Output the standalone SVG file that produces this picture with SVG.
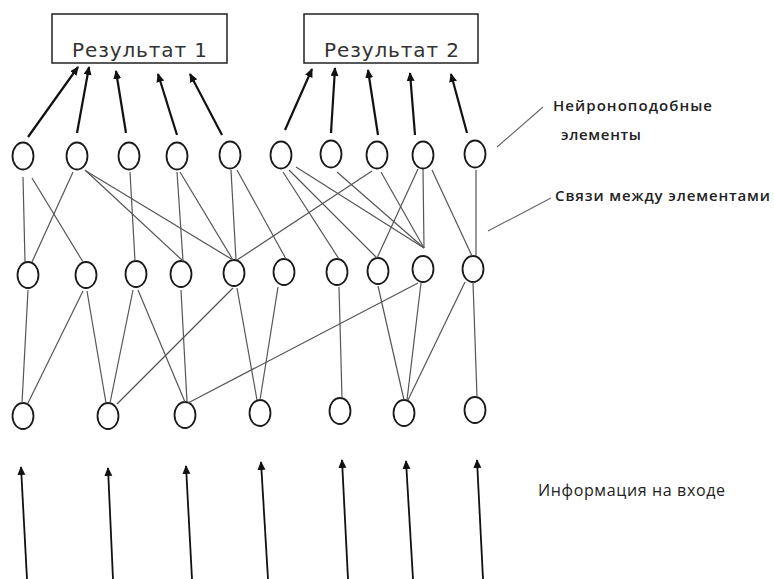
<svg xmlns="http://www.w3.org/2000/svg" width="774" height="579" viewBox="0 0 774 579">
<style>
.node{fill:#fff;stroke:#1a1a1a;stroke-width:1.8}
.box{fill:#fff;stroke:#222;stroke-width:1.5}
.link{stroke:#555;stroke-width:1.2;fill:none}
.out{stroke:#111;stroke-width:2.2;fill:none;marker-end:url(#ah)}
.in{stroke:#111;stroke-width:1.8;fill:none;marker-end:url(#ah)}
.lead{stroke:#666;stroke-width:1.1}
.title{font-family:"DejaVu Sans","Open Sans",sans-serif;font-size:20px;fill:#333}
.lbl{font-family:"Open Sans","Noto Sans",sans-serif;font-size:15px;fill:#222;font-weight:600}
.lbl2{font-family:"Open Sans","Noto Sans",sans-serif;font-size:16px;fill:#222}
</style>
<defs>
<marker id="ah" markerWidth="10" markerHeight="10" refX="8" refY="4" orient="auto" markerUnits="userSpaceOnUse">
<path d="M0,0 L9,4 L0,8 Z" fill="#111"/>
</marker>
</defs>
<g id="result1"><rect class="box" x="52" y="14" width="175" height="49"/><text class="title" x="72" y="56.5" textLength="135" lengthAdjust="spacing">Результат 1</text></g>
<g id="result2"><rect class="box" x="304" y="14" width="174" height="49"/><text class="title" x="324" y="56.5" textLength="135" lengthAdjust="spacing">Результат 2</text></g>
<g id="layer1">
<g id="a1"><ellipse class="node" cx="23" cy="156" rx="10.5" ry="13.5"/></g>
<g id="a2"><ellipse class="node" cx="77" cy="156" rx="10.5" ry="13.5"/></g>
<g id="a3"><ellipse class="node" cx="129" cy="156" rx="10.5" ry="13.5"/></g>
<g id="a4"><ellipse class="node" cx="177" cy="156" rx="10.5" ry="13.5"/></g>
<g id="a5"><ellipse class="node" cx="230" cy="155" rx="10.5" ry="13.5"/></g>
<g id="a6"><ellipse class="node" cx="281" cy="155" rx="10.5" ry="13.5"/></g>
<g id="a7"><ellipse class="node" cx="331" cy="154" rx="10.5" ry="13.5"/></g>
<g id="a8"><ellipse class="node" cx="377" cy="155" rx="10.5" ry="13.5"/></g>
<g id="a9"><ellipse class="node" cx="423" cy="155" rx="10.5" ry="13.5"/></g>
<g id="a10"><ellipse class="node" cx="475" cy="154" rx="10.5" ry="13.5"/></g>
</g>
<g id="layer2">
<g id="b1"><ellipse class="node" cx="28" cy="275" rx="10.5" ry="13"/></g>
<g id="b2"><ellipse class="node" cx="86" cy="275" rx="10.5" ry="13"/></g>
<g id="b3"><ellipse class="node" cx="136" cy="274" rx="10.5" ry="13"/></g>
<g id="b4"><ellipse class="node" cx="181" cy="274" rx="10.5" ry="13"/></g>
<g id="b5"><ellipse class="node" cx="234" cy="273" rx="10.5" ry="13"/></g>
<g id="b6"><ellipse class="node" cx="284" cy="272" rx="10.5" ry="13"/></g>
<g id="b7"><ellipse class="node" cx="337" cy="272" rx="10.5" ry="13"/></g>
<g id="b8"><ellipse class="node" cx="378" cy="271" rx="10.5" ry="13"/></g>
<g id="b9"><ellipse class="node" cx="423" cy="269" rx="10.5" ry="13"/></g>
<g id="b10"><ellipse class="node" cx="473" cy="269" rx="10.5" ry="13"/></g>
</g>
<g id="layer3">
<g id="c1"><ellipse class="node" cx="23" cy="416" rx="10.5" ry="13"/></g>
<g id="c2"><ellipse class="node" cx="108" cy="416" rx="10.5" ry="13"/></g>
<g id="c3"><ellipse class="node" cx="185" cy="415" rx="10.5" ry="13"/></g>
<g id="c4"><ellipse class="node" cx="260" cy="413" rx="10.5" ry="13"/></g>
<g id="c5"><ellipse class="node" cx="340" cy="411" rx="10.5" ry="13"/></g>
<g id="c6"><ellipse class="node" cx="404" cy="413" rx="10.5" ry="13"/></g>
<g id="c7"><ellipse class="node" cx="475" cy="410" rx="10.5" ry="13"/></g>
</g>
<g id="connectors">
<line class="link" x1="23" y1="177" x2="25" y2="262"/>
<line class="link" x1="32" y1="178" x2="83" y2="262"/>
<line class="link" x1="73" y1="172" x2="32" y2="262"/>
<line class="link" x1="85" y1="170" x2="183" y2="261"/>
<line class="link" x1="86" y1="171" x2="233" y2="260"/>
<line class="link" x1="130" y1="172" x2="135" y2="261"/>
<line class="link" x1="177" y1="172" x2="183" y2="261"/>
<line class="link" x1="180" y1="172" x2="233" y2="260"/>
<line class="link" x1="231" y1="170" x2="236" y2="260"/>
<line class="link" x1="237" y1="170" x2="286" y2="259"/>
<line class="link" x1="283" y1="172" x2="339" y2="259"/>
<line class="link" x1="289" y1="170" x2="377" y2="258"/>
<line class="link" x1="296" y1="167" x2="424" y2="248"/>
<line class="link" x1="337" y1="172" x2="424" y2="248"/>
<line class="link" x1="372" y1="171" x2="237" y2="260"/>
<line class="link" x1="381" y1="172" x2="424" y2="248"/>
<line class="link" x1="418" y1="169" x2="377" y2="258"/>
<line class="link" x1="423" y1="169" x2="424" y2="248"/>
<line class="link" x1="432" y1="170" x2="472" y2="256"/>
<line class="link" x1="476" y1="170" x2="476" y2="256"/>
<line class="link" x1="28" y1="290" x2="22" y2="403"/>
<line class="link" x1="83" y1="291" x2="28" y2="403"/>
<line class="link" x1="87" y1="291" x2="106" y2="403"/>
<line class="link" x1="133" y1="290" x2="110" y2="403"/>
<line class="link" x1="138" y1="290" x2="185" y2="402"/>
<line class="link" x1="181" y1="290" x2="187" y2="402"/>
<line class="link" x1="233" y1="288" x2="117" y2="404"/>
<line class="link" x1="237" y1="288" x2="257" y2="400"/>
<line class="link" x1="278" y1="287" x2="260" y2="400"/>
<line class="link" x1="339" y1="287" x2="342" y2="398"/>
<line class="link" x1="378" y1="286" x2="404" y2="400"/>
<line class="link" x1="418" y1="283" x2="188" y2="403"/>
<line class="link" x1="421" y1="283" x2="407" y2="400"/>
<line class="link" x1="465" y1="282" x2="408" y2="400"/>
<line class="link" x1="473" y1="282" x2="477" y2="397"/>
<line class="out" x1="28" y1="137" x2="78" y2="67"/>
<line class="out" x1="77" y1="133" x2="89" y2="67"/>
<line class="out" x1="126" y1="133" x2="116" y2="71"/>
<line class="out" x1="177" y1="135" x2="158" y2="74"/>
<line class="out" x1="222" y1="135" x2="190" y2="74"/>
<line class="out" x1="285" y1="130" x2="312" y2="69"/>
<line class="out" x1="331" y1="133" x2="335" y2="68"/>
<line class="out" x1="378" y1="135" x2="368" y2="70"/>
<line class="out" x1="415" y1="135" x2="410" y2="73"/>
<line class="out" x1="467" y1="133" x2="451" y2="74"/>
<line class="in" x1="27" y1="579" x2="21" y2="467"/>
<line class="in" x1="113" y1="579" x2="108" y2="468"/>
<line class="in" x1="192" y1="579" x2="186" y2="466"/>
<line class="in" x1="268" y1="579" x2="261" y2="462"/>
<line class="in" x1="348" y1="579" x2="342" y2="460"/>
<line class="in" x1="413" y1="579" x2="406" y2="461"/>
<line class="in" x1="483" y1="579" x2="477" y2="460"/>
<line class="lead" x1="497" y1="147" x2="543" y2="107"/>
<line class="lead" x1="488" y1="231" x2="551" y2="198"/>
</g>
<g id="labels">
<text class="lbl" x="553" y="110.5" textLength="159" lengthAdjust="spacing">Нейроноподобные</text>
<text class="lbl" x="561" y="139.5" textLength="80" lengthAdjust="spacing">элементы</text>
<text class="lbl" x="555" y="200.5" textLength="215" lengthAdjust="spacing">Связи между элементами</text>
<text class="lbl2" x="538" y="496" textLength="187" lengthAdjust="spacing">Информация на входе</text>
</g>
</svg>
